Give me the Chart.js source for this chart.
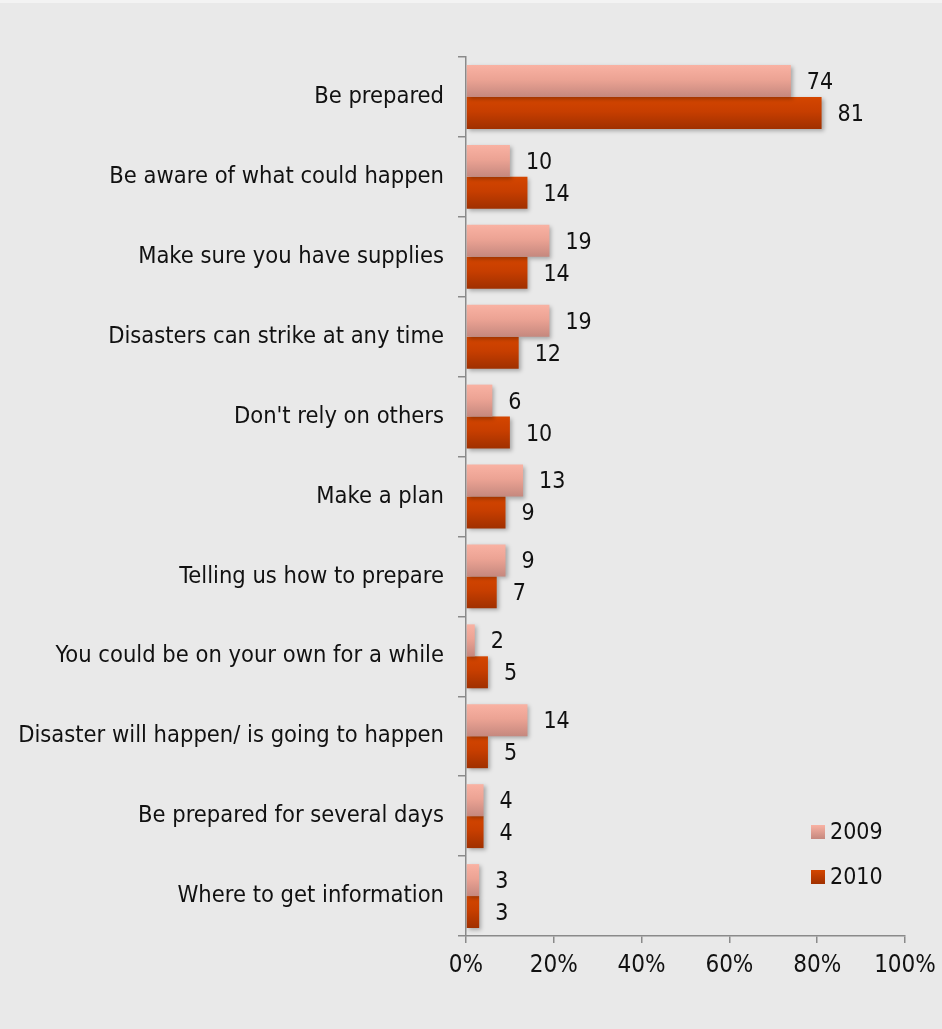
<!DOCTYPE html>
<html>
<head>
<meta charset="utf-8">
<script src="https://cdn.jsdelivr.net/npm/chart.js@4/dist/chart.umd.min.js"></script>
<style>
    html, body { margin: 0; padding: 0; }
    body { background: #e9e9e9; }
    #box { width: 942px; height: 1029px; background: linear-gradient(#f3f3f3 0 3px, #e9e9e9 3px); }
</style>
</head>
<body>
<div id="box"><canvas id="grafico" width="942" height="1029"></canvas></div>
<script>
const categorias = [
    'Be prepared',
    'Be aware of what could happen',
    'Make sure you have supplies',
    'Disasters can strike at any time',
    "Don't rely on others",
    'Make a plan',
    'Telling us how to prepare',
    'You could be on your own for a while',
    'Disaster will happen/ is going to happen',
    'Be prepared for several days',
    'Where to get information'
];
const valores2009 = [74, 10, 19, 19, 6, 13, 9, 2, 14, 4, 3];
const valores2010 = [81, 14, 14, 12, 10, 9, 7, 5, 5, 4, 3];
const ticksX = [0, 20, 40, 60, 80, 100];
const anos = ['2009', '2010'];

const FONTE = 'Tahoma, "DejaVu Sans Condensed", "DejaVu Sans", sans-serif';
const CORES = [
    { topo: '#f9b2a3', meio: '#eca394', base: '#c5887e', plano: '#f0a898' },
    { topo: '#d44600', meio: '#c73e00', base: '#a03000', plano: '#c63e00' }
];
const CAT_PCT = 0.8;

// gradiente vertical de cada barra, calculado pela escala y
function preenchimento(c) {
    const cor = CORES[c.datasetIndex];
    const y = c.chart.scales.y;
    if (c.dataIndex === undefined || !y || !y.height) return cor.plano;
    const centro = y.getPixelForValue(c.dataIndex);
    const faixa = (y.height / categorias.length) * CAT_PCT;
    const y0 = c.datasetIndex === 0 ? centro - faixa / 2 : centro;
    const g = c.chart.ctx.createLinearGradient(0, y0, 0, y0 + faixa / 2);
    g.addColorStop(0, cor.topo);
    g.addColorStop(0.45, cor.meio);
    g.addColorStop(1, cor.base);
    return g;
}

const sombra = {
    id: 'sombra',
    beforeDatasetsDraw(chart) {
        const ctx = chart.ctx;
        ctx.save();
        ctx.shadowColor = 'rgba(0,0,0,0.28)';
        ctx.shadowBlur = 4;
        ctx.shadowOffsetX = 2;
        ctx.shadowOffsetY = 2;
    },
    afterDatasetsDraw(chart) {
        chart.ctx.restore();
    }
};

const rotulos = {
    id: 'rotulos',
    afterDatasetsDraw(chart) {
        const ctx = chart.ctx;
        ctx.save();
        ctx.font = '23px ' + FONTE;
        ctx.fillStyle = '#111';
        ctx.textAlign = 'left';
        ctx.textBaseline = 'middle';
        chart.data.datasets.forEach((ds, i) => {
            chart.getDatasetMeta(i).data.forEach((el, j) => {
                ctx.fillText(String(ds.data[j]), el.x + 16, el.y + 2);
            });
        });
        ctx.restore();
    }
};

const legenda = {
    id: 'legenda',
    afterDraw(chart) {
        const ctx = chart.ctx;
        const a = chart.chartArea;
        ctx.save();
        ctx.font = '23px ' + FONTE;
        ctx.textBaseline = 'middle';
        ctx.textAlign = 'left';
        anos.forEach((ano, i) => {
            const x = a.right - 94;
            const y = a.bottom - 111 + i * 45;
            const g = ctx.createLinearGradient(0, y, 0, y + 14);
            g.addColorStop(0, CORES[i].topo);
            g.addColorStop(1, CORES[i].base);
            ctx.fillStyle = g;
            ctx.fillRect(x, y, 14, 14);
            ctx.fillStyle = '#111';
            ctx.fillText(ano, x + 19, y + 8);
        });
        ctx.restore();
    }
};

new Chart(document.getElementById('grafico').getContext('2d'), {
    type: 'bar',
    data: {
        labels: categorias,
        datasets: [
            { label: anos[0], data: valores2009, backgroundColor: preenchimento, categoryPercentage: CAT_PCT, barPercentage: 1.0 },
            { label: anos[1], data: valores2010, backgroundColor: preenchimento, categoryPercentage: CAT_PCT, barPercentage: 1.0 }
        ]
    },
    options: {
        indexAxis: 'y',
        responsive: false,
        animation: false,
        layout: { padding: { top: 57, right: 37, left: 0, bottom: 0 } },
        plugins: {
            legend: { display: false },
            tooltip: { enabled: false }
        },
        scales: {
            x: {
                min: 0,
                max: 100,
                afterBuildTicks: (s) => { s.ticks = ticksX.map(v => ({ value: v })); },
                afterFit: (s) => {
                    s.height = 1029 - 936;
                    s.paddingLeft = 0;
                    s.paddingRight = 0;
                },
                border: { color: '#8a8a8a', width: 1.5 },
                grid: { drawOnChartArea: false, drawTicks: true, tickLength: 7, color: '#8a8a8a', lineWidth: 1.5 },
                ticks: {
                    padding: 8,
                    color: '#111',
                    font: { family: FONTE, size: 24 },
                    callback: (v) => v + '%'
                }
            },
            y: {
                afterFit: (s) => { s.width = 466; },
                border: { color: '#8a8a8a', width: 1.5 },
                grid: { drawOnChartArea: false, drawTicks: true, tickLength: 8, color: '#8a8a8a', lineWidth: 1.5 },
                ticks: {
                    padding: 14,
                    color: '#111',
                    font: { family: FONTE, size: 23.5 },
                    autoSkip: false
                }
            }
        }
    },
    plugins: [sombra, rotulos, legenda]
});
</script>
</body>
</html>
